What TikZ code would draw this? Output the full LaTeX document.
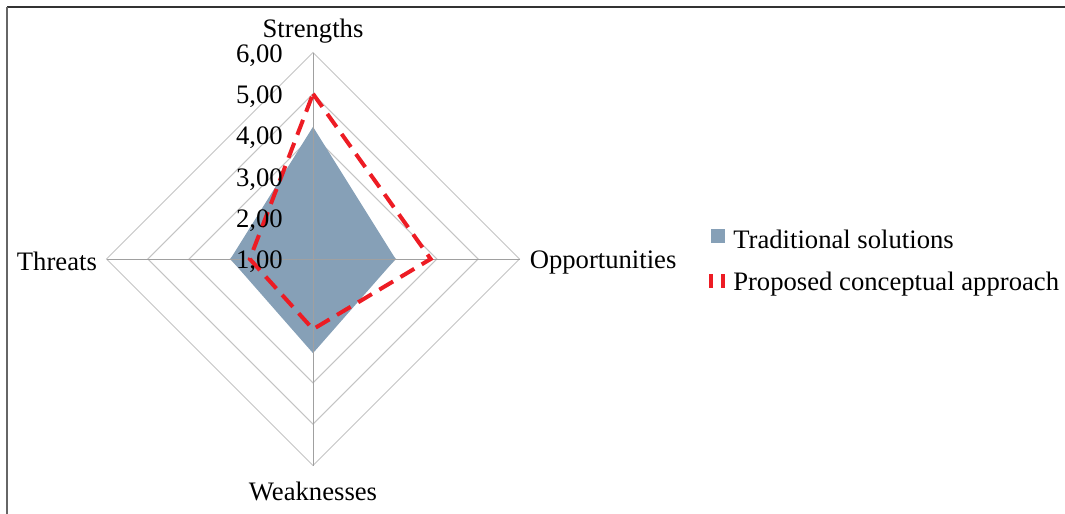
\documentclass[tikz,border=0pt]{standalone}
\usepackage{fontspec}
\setmainfont{Liberation Serif}
\usetikzlibrary{positioning,calc}
\definecolor{tradblue}{RGB}{134,160,183}
\definecolor{propred}{RGB}{237,28,36}
\definecolor{ringgray}{RGB}{196,196,196}
\definecolor{spokegray}{RGB}{160,160,160}
\begin{document}
\begin{tikzpicture}[x=0.75pt, y=-0.75pt,
    ring line/.style={draw=ringgray, line width=0.75pt},
    spoke line/.style={draw=spokegray, line width=0.75pt},
    axis label/.style={font=\fontsize{20}{24}\selectfont, inner sep=0pt},
    tick label/.style={font=\fontsize{20}{24}\selectfont, inner sep=0pt, anchor=east},
    trad area/.style={fill=tradblue, draw=none},
    prop line/.style={draw=propred, line width=3pt, dash pattern=on 12pt off 6.5pt},
    key box/.style={fill=tradblue, minimum size=10.5pt, inner sep=0pt}]

    \useasboundingbox (0,0) rectangle (1065,514);
    % frame
    \draw[line width=1.5pt, black!80] (7,7) -- (1065,7);
    \draw[line width=2.2pt, black!60] (7,7) -- (7,514);

    % centre and axis ends
    \coordinate (c) at (313,259);
    \coordinate (s) at (313,52.5);
    \coordinate (o) at (519.5,259);
    \coordinate (w) at (313,465.5);
    \coordinate (t) at (106.5,259);

    % rings
    \foreach \v in {2,...,6}
      \draw[ring line] ($(c)+(0,-\v*41.3+41.3)$) -- ($(c)+(\v*41.3-41.3,0)$)
        -- ($(c)+(0,\v*41.3-41.3)$) -- ($(c)+(-\v*41.3+41.3,0)$) -- cycle;

    % traditional solutions
    \path[trad area] ($(c)+(0,-3.2*41.3)$) -- ($(c)+(2.0*41.3,0)$)
      -- ($(c)+(0,2.28*41.3)$) -- ($(c)+(-2.0*41.3,0)$) -- cycle;

    % spokes
    \draw[spoke line] (s) -- (w);
    \draw[spoke line] (t) -- (o);

    % proposed conceptual approach
    \draw[prop line] ($(c)+(0,-4.0*41.3)$) -- ($(c)+(2.85*41.3,0)$)
      -- ($(c)+(0,1.7*41.3)$) -- ($(c)+(-1.53*41.3,0)$) -- cycle;

    % tick labels
    \foreach \v in {1,...,6}
      \node[tick label] (tick\v) at (283,262-\v*41.3+41.3) {\v,00};

    % axis labels
    \node[axis label, above=7pt of s] (strengths) {Strengths};
    \node[axis label, right=7.5pt of o, yshift=-3pt] (opportunities) {Opportunities};
    \node[axis label, below=12pt of w] (weaknesses) {Weaknesses};
    \node[axis label, left=7pt of t, yshift=-1.5pt] (threats) {Threats};

    % legend
    \node[key box] (trad key) at (718,236) {};
    \node[axis label, anchor=west] (trad text) at (733,239) {Traditional solutions};
    \coordinate (prop key) at (717,281);
    \draw[propred, line width=3pt] ($(prop key)+(-6,-7)$) -- ($(prop key)+(-6,7)$);
    \draw[propred, line width=3pt] ($(prop key)+(6,-7)$) -- ($(prop key)+(6,7)$);
    \node[axis label, anchor=west] (prop text) at (733,284) {Proposed conceptual approach};
  \end{tikzpicture}
\end{document}
